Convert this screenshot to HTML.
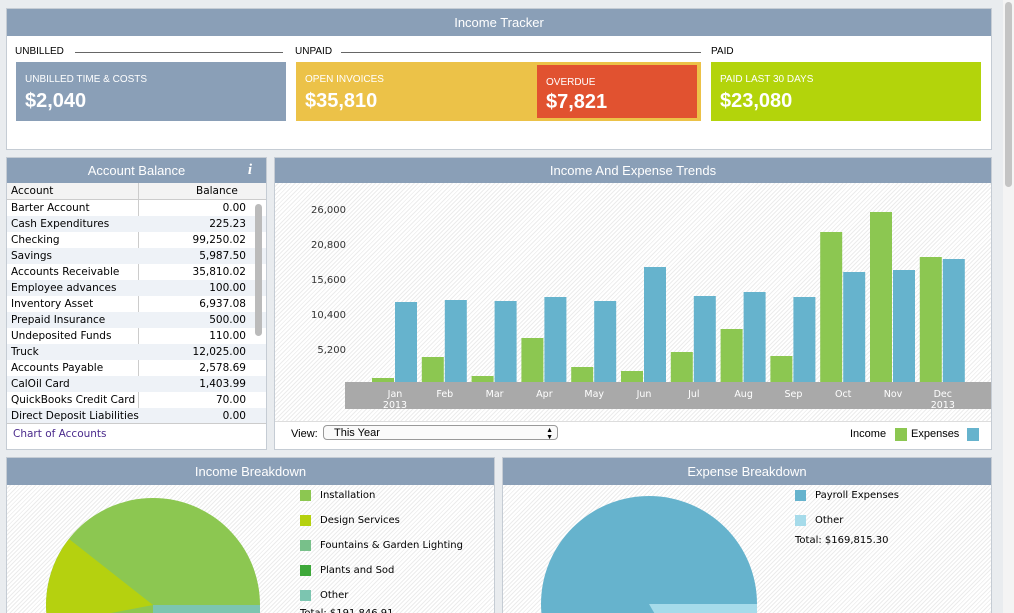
<!DOCTYPE html>
<html style="overflow:hidden;height:613px"><head><style>
body{margin:0;width:1014px;height:613px;background:#e9ecef;font-family:"Liberation Sans",sans-serif;position:relative;overflow:hidden}
.p{position:absolute;background:#fff;border:1px solid #c5ccd4;overflow:hidden}
.hd{position:absolute;left:0;right:0;top:0;background:#8a9fb7;color:#fff;text-align:center;font-size:13px;z-index:2}
.hatch{position:absolute;background:repeating-linear-gradient(135deg,#fff 0 2px,#ececec 2px 3px)}
.a{position:absolute;font-size:11px}
.box{position:absolute;color:#fff}
.box .t{position:absolute;left:9px;top:12px;font-size:10px}
.box .v{position:absolute;left:9px;top:28px;font-size:20px;font-weight:bold}
.row{height:16px;line-height:16px;font-family:"DejaVu Sans",sans-serif;font-size:10.5px;position:relative;padding-left:4px}
.row span{position:absolute;right:20px}
.row:nth-child(even){background:#eef2f7}
.leg{position:absolute;font-family:"DejaVu Sans",sans-serif;font-size:10px}
.sq{position:absolute;width:11px;height:11px}
</style></head><body>
<div class="p" style="left:6px;top:8px;width:984px;height:140px">
<div class="hd" style="height:27px;line-height:27px">Income Tracker</div>
<div class="a" style="left:8px;top:37px;font-size:10px">UNBILLED</div>
<div style="position:absolute;left:68px;top:43px;width:208px;border-top:1px solid #666"></div>
<div class="a" style="left:288px;top:37px;font-size:10px">UNPAID</div>
<div style="position:absolute;left:334px;top:43px;width:360px;border-top:1px solid #666"></div>
<div class="a" style="left:704px;top:37px;font-size:10px">PAID</div>
<div class="box" style="left:9px;top:53px;width:270px;height:59px;background:#8a9fb7"><div class="t">UNBILLED TIME &amp; COSTS</div><div class="v">$2,040</div></div>
<div class="box" style="left:289px;top:53px;width:405px;height:59px;background:#ecc248"><div class="t">OPEN INVOICES</div><div class="v">$35,810</div></div>
<div class="box" style="left:530px;top:56px;width:160px;height:53px;background:#e15230"><div class="t" style="top:12px">OVERDUE</div><div class="v" style="top:26px">$7,821</div></div>
<div class="box" style="left:704px;top:53px;width:270px;height:59px;background:#b3d40b"><div class="t">PAID LAST 30 DAYS</div><div class="v">$23,080</div></div>
</div>

<div class="p" style="left:6px;top:157px;width:259px;height:291px">
<div class="hd" style="height:25px;line-height:25px">Account Balance<i style="position:absolute;right:14px;font-family:'Liberation Serif';font-weight:bold;font-size:15px">i</i></div>
<div style="position:absolute;left:0;top:25px;width:259px;height:16px;line-height:16px;background:#f3f3f3;border-bottom:1px solid #ccc;font-family:'DejaVu Sans';font-size:10.5px"><span style="position:absolute;left:4px">Account</span><span style="position:absolute;left:189px">Balance</span></div>
<div style="position:absolute;left:131px;top:25px;height:241px;border-left:1px solid #ccc"></div>
<div style="position:absolute;left:0;top:42px;width:259px;height:223px;overflow:hidden">
<div class="row">Barter Account<span>0.00</span></div><div class="row">Cash Expenditures<span>225.23</span></div><div class="row">Checking<span>99,250.02</span></div><div class="row">Savings<span>5,987.50</span></div><div class="row">Accounts Receivable<span>35,810.02</span></div><div class="row">Employee advances<span>100.00</span></div><div class="row">Inventory Asset<span>6,937.08</span></div><div class="row">Prepaid Insurance<span>500.00</span></div><div class="row">Undeposited Funds<span>110.00</span></div><div class="row">Truck<span>12,025.00</span></div><div class="row">Accounts Payable<span>2,578.69</span></div><div class="row">CalOil Card<span>1,403.99</span></div><div class="row">QuickBooks Credit Card<span>70.00</span></div><div class="row">Direct Deposit Liabilities<span>0.00</span></div>
</div>
<div style="position:absolute;left:248px;top:46px;width:7px;height:132px;background:#bbb;border-radius:4px"></div>
<div style="position:absolute;left:0;top:265px;width:259px;border-top:1px solid #ccc"></div>
<div class="a" style="left:6px;top:270px;color:#4a2a8c;font-family:'DejaVu Sans';font-size:10.5px">Chart of Accounts</div>
</div>

<div class="p" style="left:274px;top:157px;width:716px;height:291px">
<div class="hd" style="height:25px;line-height:25px">Income And Expense Trends</div>
<div class="hatch" style="left:0;top:25px;width:716px;height:238px"></div>
<svg style="position:absolute;left:0;top:0" width="716" height="291" font-family="DejaVu Sans" font-size="10">
<g fill="#333" text-anchor="end"><text x="71" y="55">26,000</text><text x="71" y="90">20,800</text><text x="71" y="125">15,600</text><text x="71" y="160">10,400</text><text x="71" y="195">5,200</text></g>
<rect x="70" y="224" width="646" height="27" fill="#a9a9a9"/>
<g id="bars"></g>
<g fill="#fff" text-anchor="middle" font-size="9.5" id="lbl"></g>
</svg>
<div style="position:absolute;left:0;top:263px;width:716px;border-top:1px solid #ddd"></div>
<div class="a" style="left:16px;top:270px">View:</div>
<div style="position:absolute;left:48px;top:267px;width:235px;height:15px;border:1px solid #999;border-radius:4px;background:#fafafa;font-size:11px;line-height:15px;padding-left:10px;box-sizing:border-box">This Year<span style="position:absolute;right:4px;font-size:7px;line-height:7px;top:1px">▲<br>▼</span></div>
<div class="a" style="left:575px;top:270px">Income</div><div class="sq" style="left:620px;top:270px;width:12px;height:13px;background:#8cc751"></div>
<div class="a" style="left:636px;top:270px">Expenses</div><div class="sq" style="left:692px;top:270px;width:12px;height:13px;background:#66b3cd"></div>
</div>

<div class="p" style="left:6px;top:457px;width:487px;height:156px;border-bottom:none">
<div class="hd" style="height:27px;line-height:28px">Income Breakdown</div>
<div class="hatch" style="left:0;top:27px;width:487px;height:129px"></div>
<svg style="position:absolute;left:0;top:0" width="487" height="156">
<circle cx="146" cy="147" r="107" fill="#8cc751"/>
<path d="M146 147 L62 81 A107 107 0 0 0 41 167 Z" fill="#b5d10f"/>
<path d="M146 147 L253 147 L253 170 L146 170Z" fill="#7cc5b0"/>
</svg>
<div class="sq" style="left:293px;top:32px;background:#8cc751"></div><div class="leg" style="left:313px;top:32px">Installation</div>
<div class="sq" style="left:293px;top:57px;background:#b5d10f"></div><div class="leg" style="left:313px;top:57px">Design Services</div>
<div class="sq" style="left:293px;top:82px;background:#78c08a"></div><div class="leg" style="left:313px;top:82px">Fountains &amp; Garden Lighting</div>
<div class="sq" style="left:293px;top:107px;background:#3ea83a"></div><div class="leg" style="left:313px;top:107px">Plants and Sod</div>
<div class="sq" style="left:293px;top:132px;background:#7cc5b0"></div><div class="leg" style="left:313px;top:132px">Other</div>
<div class="leg" style="left:293px;top:150px">Total: $191,846.91</div>
</div>

<div class="p" style="left:502px;top:457px;width:488px;height:156px;border-bottom:none">
<div class="hd" style="height:27px;line-height:28px">Expense Breakdown</div>
<div class="hatch" style="left:0;top:27px;width:488px;height:129px"></div>
<svg style="position:absolute;left:0;top:0" width="488" height="156">
<circle cx="146" cy="146" r="108" fill="#66b3cd"/>
<path d="M146 146 L254 146 L254 170 L160 170Z" fill="#a6dbea"/>
</svg>
<div class="sq" style="left:292px;top:32px;background:#66b3cd"></div><div class="leg" style="left:312px;top:32px">Payroll Expenses</div>
<div class="sq" style="left:292px;top:57px;background:#a6dbea"></div><div class="leg" style="left:312px;top:57px">Other</div>
<div class="leg" style="left:292px;top:77px">Total: $169,815.30</div>
</div>
<div style="position:absolute;left:1003px;top:0;width:11px;height:613px;background:#f4f4f4"></div>
<div style="position:absolute;left:1005px;top:2px;width:7px;height:185px;background:#c4c4c4;border-radius:4px"></div>
<script>
var g=[377,356,375,337,366,370,351,328,355,231,211,256],b=[301,299,300,296,300,266,295,291,296,271,269,258];
var m=["Jan","Feb","Mar","Apr","May","Jun","Jul","Aug","Sep","Oct","Nov","Dec"];
var s="",l="";
for(var i=0;i<12;i++){var x=394-274+i*49.8;
s+='<rect x="'+(x-23)+'" y="'+(g[i]-157)+'" width="22" height="'+(381-g[i])+'" fill="#8cc751"/>';
s+='<rect x="'+x+'" y="'+(b[i]-157)+'" width="22" height="'+(381-b[i])+'" fill="#66b3cd"/>';
l+='<text x="'+x+'" y="239">'+m[i]+'</text>';if(i==0||i==11)l+='<text x="'+x+'" y="250">2013</text>';}
document.getElementById("bars").innerHTML=s;document.getElementById("lbl").innerHTML=l;
</script>
</body></html>
